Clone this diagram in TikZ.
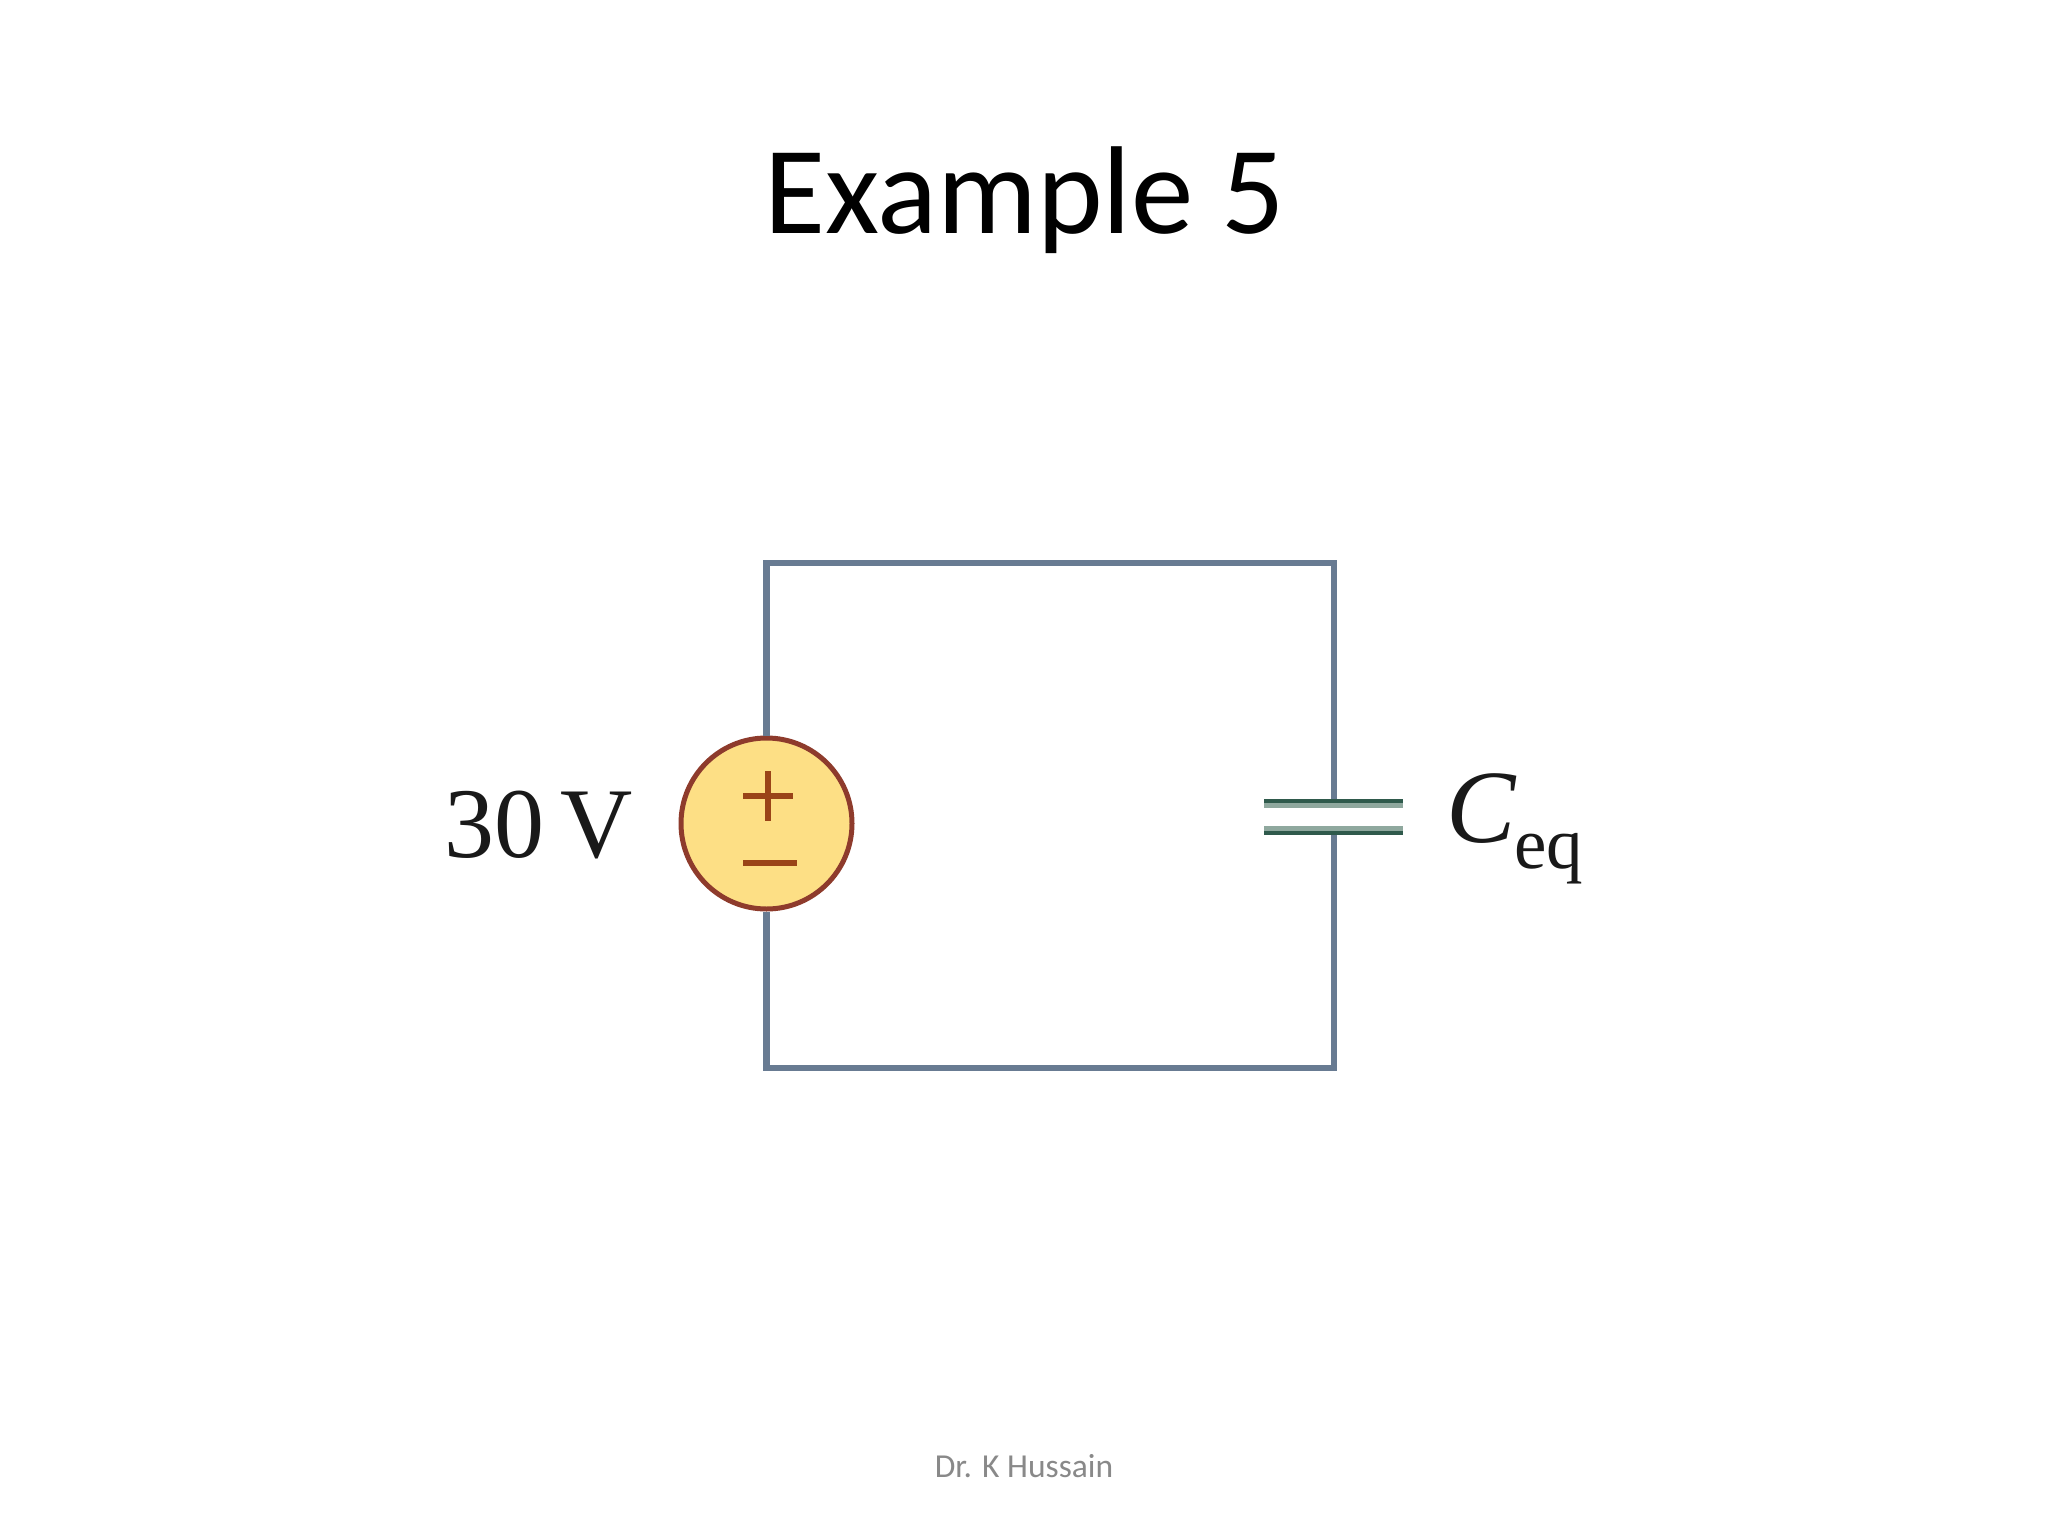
\documentclass[tikz,border=0pt]{standalone}
\usepackage{fontspec}
\setmainfont{Liberation Serif}
\newfontfamily\calib{Carlito}
\definecolor{wirecol}{HTML}{687B92}
\definecolor{srcfill}{HTML}{FDDF85}
\definecolor{srcline}{HTML}{8E3B2C}
\definecolor{signcol}{HTML}{9A4418}
\definecolor{platecol}{HTML}{2F5A4C}
\definecolor{platelite}{HTML}{8FA89E}
\definecolor{footcol}{HTML}{898989}
\tikzset{
  wire/.style={draw=wirecol,line width=6.5pt,line join=miter},
  plateedge/.style={draw=platelite,line width=4.5pt},
  plate/.style={draw=platecol,line width=4.5pt},
  signline/.style={draw=signcol,line width=6pt},
  lbl/.style={inner sep=0pt,outer sep=0pt,text=black!90},
}
\begin{document}
\begin{tikzpicture}[x=1pt,y=-1pt]
\useasboundingbox[fill=white] (0,0) rectangle (2048,1536);
\node[inner sep=0pt,anchor=base,font=\calib\fontsize{125}{125}\selectfont] (title) at (1025,233) {Example 5};
\node[inner sep=0pt,anchor=base,text=footcol,font=\calib\fontsize{33.5}{33.5}\selectfont] (foot) at (1024,1477) {Dr. K Hussain};

\coordinate (tl) at (766.5,563);
\coordinate (tr) at (1334,563);
\coordinate (br) at (1334,1068);
\coordinate (bl) at (766.5,1068);
\coordinate (capT) at (1334,801);
\coordinate (capB) at (1334,833);
\coordinate (pt1) at (1264,801);
\coordinate (pt2) at (1403,801);
\coordinate (pb1) at (1264,833);
\coordinate (pb2) at (1403,833);
\coordinate (pe1) at (1264,805.5);
\coordinate (pe2) at (1403,805.5);
\coordinate (pf1) at (1264,828.5);
\coordinate (pf2) at (1403,828.5);

\node[circle,draw=srcline,fill=srcfill,line width=5pt,minimum size=171pt,inner sep=0pt] (src) at (766.5,823.5) {};
\draw[wire] (src.north) -- (tl) -- (tr) -- (capT);
\draw[wire] (capB) -- (br) -- (bl) -- (src.south);
\draw[plateedge] (pe1) -- (pe2);
\draw[plateedge] (pf1) -- (pf2);
\draw[plate] (pt1) -- (pt2);
\draw[plate] (pb1) -- (pb2);

\coordinate (pl) at (743,796);
\coordinate (pr) at (793,796);
\coordinate (pu) at (768,771);
\coordinate (pd) at (768,821);
\coordinate (ml) at (743,863);
\coordinate (mr) at (797,863);
\draw[signline] (pl) -- (pr);
\draw[signline] (pu) -- (pd);
\draw[signline] (ml) -- (mr);

\node[lbl,anchor=base west,font=\fontsize{100}{100}\selectfont] (v) at (444,857) {30\,V};
\node[lbl,anchor=base west,font=\itshape\fontsize{104}{104}\selectfont] (c) at (1446,842) {C};
\node[lbl,anchor=base west,font=\fontsize{73}{73}\selectfont] (eq) at (1514,868) {eq};
\end{tikzpicture}
\end{document}
